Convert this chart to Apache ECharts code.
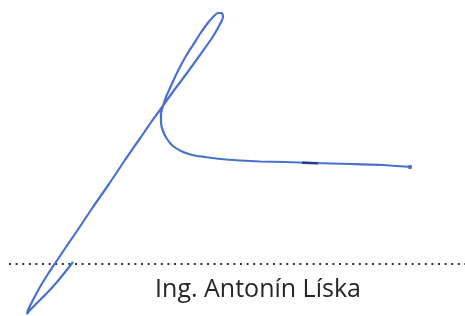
<!DOCTYPE html>
<html lang="cs">
<head>
    <meta charset="UTF-8">
    <title>Podpis</title>
    <script src="https://cdn.jsdelivr.net/npm/echarts@6/dist/echarts.min.js"></script>
    <style>
        html, body { margin: 0; padding: 0; background: #fff; }
        #chart { width: 465px; height: 316px; }
    </style>
</head>
<body>
<div id="chart"></div>

<script type="text/javascript">

    // signature stroke, in picture units (x right, y down)
    var strokeX = [73, 66, 57, 47, 37, 30, 27, 28, 33, 40, 48, 56, 66, 77, 93, 109, 125, 141, 152, 160, 167, 175, 187, 200, 212, 219, 223, 222, 218, 213, 207, 200, 193, 186, 180, 175, 170, 166, 163, 161, 161, 163, 167, 173, 181, 192, 205, 220, 240, 260, 285, 313, 350, 383, 410];
    var strokeY = [262, 271, 282, 293, 303, 310, 314, 310, 300, 287, 274, 262, 247, 231, 207, 184, 160, 137, 121, 110, 100, 89, 73, 55, 38, 26, 17, 13, 13, 17, 24, 34, 45, 56, 67, 77, 88, 97, 106, 114, 123, 131, 139, 146, 151, 155, 157, 159, 160.5, 161.5, 162, 163, 164, 165, 167];

    // darker ink spot on the tail and the end dot
    var blotX = [302, 318];
    var blotY = [162.8, 163.2];
    var endX = [410];
    var endY = [167];

    // dotted signature line
    var dotLineX = [9, 465];
    var dotLineY = [264, 264];

    var nameText = 'Ing. Antonín Líska';

    function zip(xs, ys) {
        return xs.map(function (x, i) { return [x, ys[i]]; });
    }

    var chart = echarts.init(document.getElementById('chart'));

    var option = {
        backgroundColor: '#ffffff',
        animation: false,
        grid: {left: 0, right: 0, top: 0, bottom: 0},
        xAxis: {type: 'value', min: 0, max: 465, show: false},
        yAxis: {type: 'value', min: 0, max: 316, inverse: true, show: false},
        series: [
            {
                type: 'line',
                data: zip(dotLineX, dotLineY),
                showSymbol: false,
                lineStyle: {color: '#333333', width: 2, type: [2, 4.6]}
            },
            {
                type: 'line',
                data: zip(strokeX, strokeY),
                smooth: 0.2,
                showSymbol: false,
                lineStyle: {color: '#4a70d2', width: 2.2}
            },
            {
                type: 'line',
                data: zip(blotX, blotY),
                showSymbol: false,
                lineStyle: {color: '#2a3f8f', width: 2.5}
            },
            {
                type: 'scatter',
                data: zip(endX, endY),
                symbolSize: 4.5,
                itemStyle: {color: '#3550b0'}
            }
        ],
        graphic: [{
            type: 'text',
            x: 258,
            y: 302,
            style: {
                text: nameText,
                fill: '#262626',
                font: '25px "Open Sans"',
                textAlign: 'center',
                textVerticalAlign: 'bottom'
            }
        }]
    };

    chart.setOption(option);

</script>
</body>
</html>
